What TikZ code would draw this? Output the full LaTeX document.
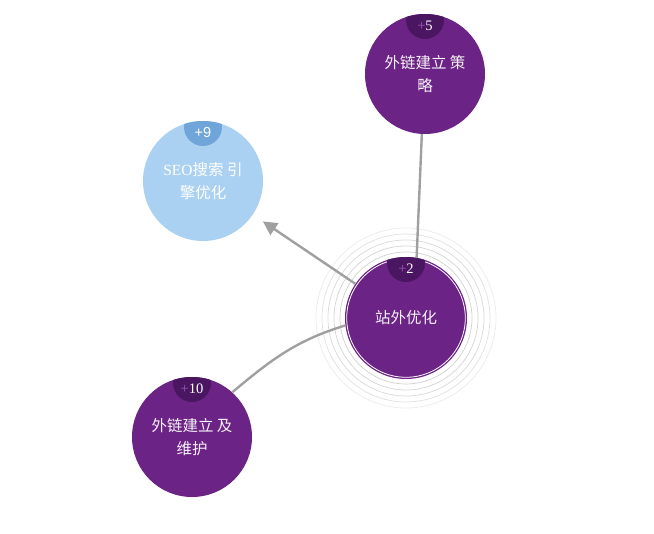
\documentclass[tikz,border=0pt]{standalone}
\usepackage{fontspec}
\setmainfont{Liberation Serif}
\newfontfamily\cjk{Noto Sans CJK SC}
\newfontfamily\lsans{Liberation Sans}
\usetikzlibrary{arrows.meta}
\definecolor{mpurple}{HTML}{6C2386}
\definecolor{dpurple}{HTML}{4A1662}
\definecolor{ppplus}{HTML}{9A5AB0}
\definecolor{lblue}{HTML}{AAD1F2}
\definecolor{dblue}{HTML}{6FA5D9}
\definecolor{conn}{HTML}{A0A0A0}
\tikzset{
  topic/.style={circle, minimum size=120pt, inner sep=0pt, fill=mpurple, text=white!94!mpurple,
    align=center, font=\cjk\fontsize{15.5}{23}\selectfont},
  bluetopic/.style={topic, fill=lblue, text=white},
  badgetxt/.style={inner sep=0pt, text=white, font=\fontsize{14.5}{14.5}\selectfont},
  link/.style={draw=conn, line width=2.4pt},
  ring/.style={draw=gray!40, line width=0.7pt},
}
% #1 x, #2 y of main centre, #3 main radius, #4 colour, #5 text, #6 name
\newcommand{\mybadge}[6]{%
  \begin{scope}
    \clip (#1,#2) circle (#3);
    \fill[#4] (#1,#2-#3+6) circle (19);
  \end{scope}
  \node[badgetxt] (#6) at (#1,#2-#3+12) {#5};
}
\begin{document}
\begin{tikzpicture}[x=1pt,y=-1pt]
\useasboundingbox (0,0) rectangle (654,534);
% rings
\foreach \r/\o in {66/0.9,72/0.85,78/0.75,84/0.6,90/0.4}
  \draw[ring, draw opacity=\o] (406,318) circle (\r);
\node[topic] (top) at (425,74) {外链建立 策\\略};
\node[bluetopic] (seo) at (203,181) {{\rmfamily SEO}搜索 引\\擎优化};
\node[topic, minimum size=122pt] (c) at (406,318) {站外优化};
\node[topic] (bl) at (192,437) {外链建立 及\\维护};
\draw[white, line width=0.8pt] (c.center) circle (59.3);
% connectors
\draw[link] (top.-93) -- (c.80);
\draw[link, -{Triangle[length=14pt,width=14pt]}, shorten >=12pt] (c) -- (seo);
\draw[link] (bl.48) to[out=40, in=197] (c.187);
\mybadge{425}{74}{60}{dpurple}{{\color{ppplus}+}5}{b1}
\mybadge{203}{181}{60}{dblue}{\lsans +9}{b2}
\mybadge{406}{318}{61}{dpurple}{{\color{ppplus}+}2}{b3}
\mybadge{192}{437}{60}{dpurple}{{\color{ppplus}+}10}{b4}
\end{tikzpicture}
\end{document}
